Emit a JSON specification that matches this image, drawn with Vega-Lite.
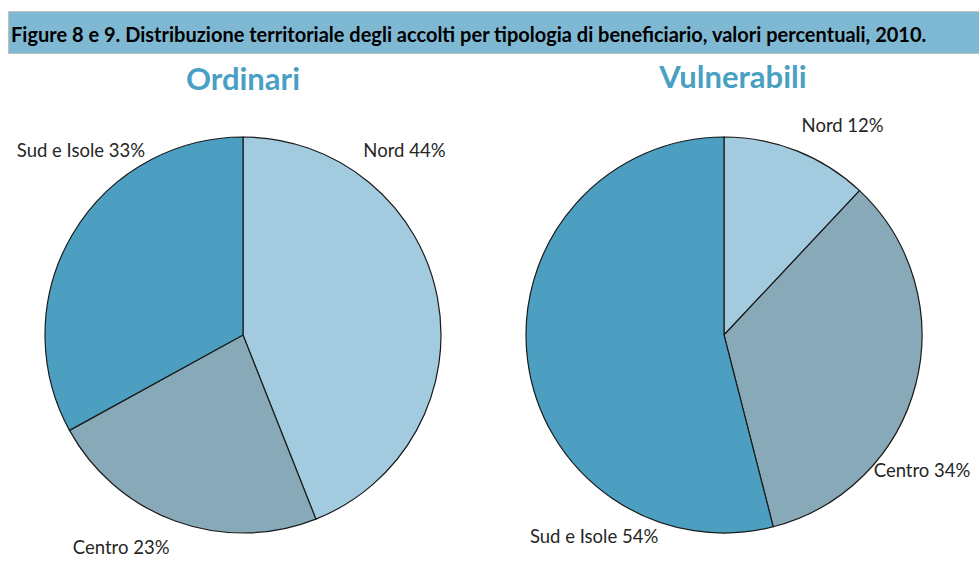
{
  "$schema": "https://vega.github.io/schema/vega-lite/v6.json",
  "padding": {"left": 7, "top": 10, "right": 0, "bottom": 0},
  "config": {"view": {"stroke": null}, "font": "Lato"},
  "datasets": {
    "accolti": [
      {"tipo": "Ordinari", "regione": "Nord", "ordine": 1, "valore": 44, "etichetta": "Nord 44%"},
      {"tipo": "Ordinari", "regione": "Centro", "ordine": 2, "valore": 23, "etichetta": "Centro 23%"},
      {"tipo": "Ordinari", "regione": "Sud e Isole", "ordine": 3, "valore": 33, "etichetta": "Sud e Isole 33%"},
      {"tipo": "Vulnerabili", "regione": "Nord", "ordine": 1, "valore": 12, "etichetta": "Nord 12%"},
      {"tipo": "Vulnerabili", "regione": "Centro", "ordine": 2, "valore": 34, "etichetta": "Centro 34%"},
      {"tipo": "Vulnerabili", "regione": "Sud e Isole", "ordine": 3, "valore": 54, "etichetta": "Sud e Isole 54%"}
    ]
  },
  "bounds": "flush",
  "spacing": 84,
  "vconcat": [
    {
      "width": 972,
      "height": 42,
      "view": {"fill": "#7fb8d3", "stroke": "#bfbfbf"},
      "title": {
        "text": "Figure 8 e 9. Distribuzione territoriale degli accolti per tipologia di beneficiario, valori percentuali, 2010.",
        "anchor": "start",
        "orient": "top",
        "offset": -35,
        "dx": 3,
        "fontSize": 20,
        "fontWeight": "bold",
        "font": "Lato",
        "color": "#000000"
      },
      "data": {"values": [{}]},
      "mark": {"type": "text"},
      "encoding": {"text": {"value": ""}}
    },
    {
      "bounds": "flush",
      "spacing": 11,
      "hconcat": [
        {
          "width": 470,
          "height": 396,
          "data": {"name": "accolti"},
          "transform": [{"filter": "datum.tipo === 'Ordinari'"}],
          "title": {"text": "Ordinari", "fontSize": 31, "fontWeight": "bold", "color": "#4a9fc4", "font": "Lato", "offset": 38},
          "encoding": {
            "theta": {"field": "valore", "type": "quantitative", "stack": true},
            "order": {"field": "ordine", "type": "quantitative"}
          },
          "layer": [
            {
              "mark": {"type": "arc", "stroke": "#1a1a1a", "strokeWidth": 1.2},
              "encoding": {
                "color": {
                  "field": "regione",
                  "type": "nominal",
                  "scale": {"domain": ["Nord", "Centro", "Sud e Isole"], "range": ["#a3cbdf", "#87a9b8", "#4c9fc0"]},
                  "legend": null
                }
              }
            },
            {
              "mark": {
                "type": "text",
                "radius": 245,
                "thetaOffset": {"expr": "datum.regione === 'Nord' ? -0.663 : (datum.regione === 'Centro' ? 0.175 : 0.314)"},
                "fontSize": 18.5,
                "font": "Lato",
                "color": "#262626"
              },
              "encoding": {"text": {"field": "etichetta"}}
            }
          ]
        },
        {
          "width": 470,
          "height": 396,
          "data": {"name": "accolti"},
          "transform": [{"filter": "datum.tipo === 'Vulnerabili'"}],
          "title": {"text": "Vulnerabili", "fontSize": 31, "fontWeight": "bold", "color": "#4a9fc4", "font": "Lato", "offset": 22, "dx": 9},
          "encoding": {
            "theta": {"field": "valore", "type": "quantitative", "stack": true},
            "order": {"field": "ordine", "type": "quantitative"}
          },
          "layer": [
            {
              "mark": {"type": "arc", "stroke": "#1a1a1a", "strokeWidth": 1.2},
              "encoding": {
                "color": {
                  "field": "regione",
                  "type": "nominal",
                  "scale": {"domain": ["Nord", "Centro", "Sud e Isole"], "range": ["#a3cbdf", "#87a9b8", "#4c9fc0"]},
                  "legend": null
                }
              }
            },
            {
              "mark": {
                "type": "text",
                "radius": 240,
                "thetaOffset": {"expr": "datum.regione === 'Sud e Isole' ? -0.873 : (datum.regione === 'Nord' ? 0.14 : 0.349)"},
                "fontSize": 18.5,
                "font": "Lato",
                "color": "#262626"
              },
              "encoding": {"text": {"field": "etichetta"}}
            }
          ]
        }
      ]
    }
  ]
}
